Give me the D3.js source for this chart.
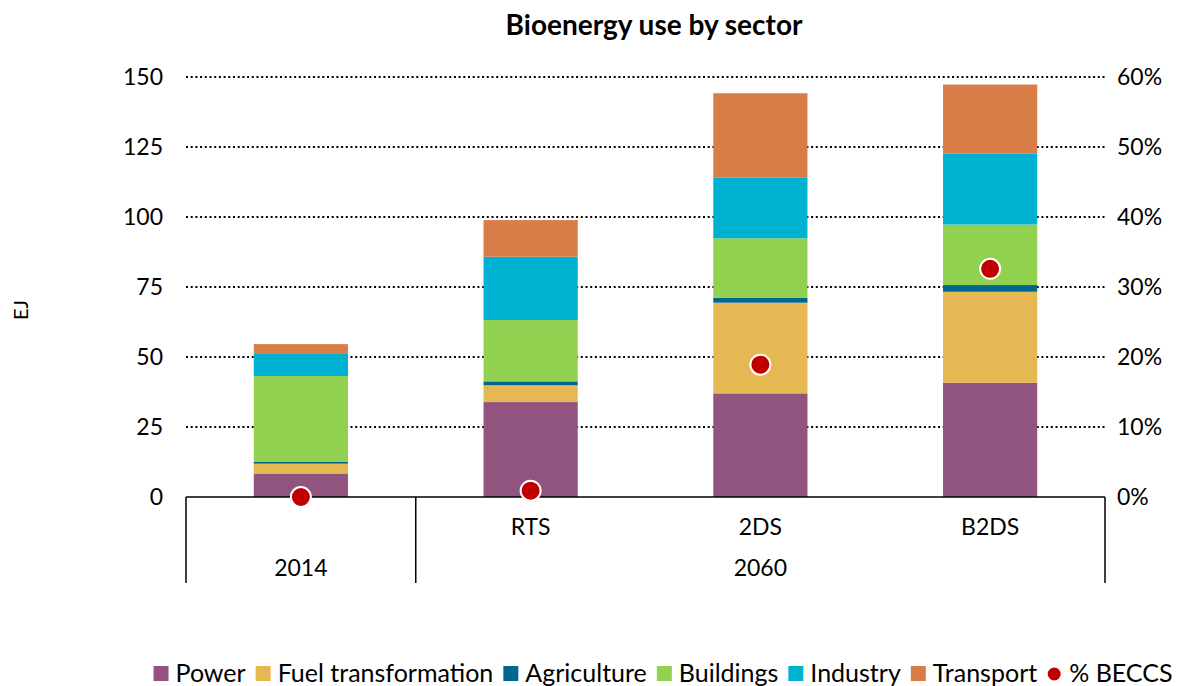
<!DOCTYPE html>
<html>
<head>
<meta charset="utf-8">
<script src="https://cdn.jsdelivr.net/npm/d3@7"></script>
<style>
  body { margin: 0; background: #fff; }
  svg { font-family: Lato, "Open Sans", sans-serif; }
</style>
</head>
<body>
<div id="container"></div>
<script>
// categories: two-level axis (scenario under year)
var ids = ['2014', 'RTS', '2DS', 'B2DS'];
var scenarioLabels = ['', 'RTS', '2DS', 'B2DS'];
var yearGroups = [
    { label: '2014', from: 0, to: 0 },
    { label: '2060', from: 1, to: 3 }
];

// EJ by sector, one value per category
var sectors = ['Power', 'Fuel transformation', 'Agriculture', 'Buildings', 'Industry', 'Transport'];
var power = [8.4, 33.9, 37.0, 40.8];
var fuelTransformation = [3.5, 6.0, 32.4, 32.5];
var agriculture = [0.6, 1.4, 1.8, 2.4];
var buildings = [30.7, 21.9, 21.2, 21.6];
var industry = [7.9, 22.6, 21.6, 25.4];
var transport = [3.5, 13.1, 30.2, 24.6];
var beccs = [0.0, 0.009, 0.189, 0.326];

var leftTicks = [0, 25, 50, 75, 100, 125, 150];
var rightTicks = [0, 0.1, 0.2, 0.3, 0.4, 0.5, 0.6];

var colors = ['#91547f', '#e5b853', '#006890', '#92d050', '#00b2d2', '#d97d48'];
var dotColor = '#c00000';

var width = 1180, height = 686;
var svg = d3.select('#container')
    .append('svg')
    .attr('width', width)
    .attr('height', height);

var rows = ids.map(function(id, i) {
    return {
        id: id,
        'Power': power[i],
        'Fuel transformation': fuelTransformation[i],
        'Agriculture': agriculture[i],
        'Buildings': buildings[i],
        'Industry': industry[i],
        'Transport': transport[i]
    };
});

var x = d3.scaleBand()
    .domain(ids)
    .range([186, 1105])
    .paddingInner(0.59)
    .paddingOuter(0.295);

var y = d3.scaleLinear().domain([0, 150]).range([497, 77]);
var y2 = d3.scaleLinear().domain([0, 0.6]).range([497, 77]);

// gridlines
svg.append('g')
    .selectAll('line')
    .data(leftTicks.slice(1))
    .enter()
    .append('line')
    .attr('x1', 186)
    .attr('x2', 1105)
    .attr('y1', function(d) { return y(d); })
    .attr('y2', function(d) { return y(d); })
    .attr('stroke', '#000')
    .attr('stroke-width', 2)
    .attr('stroke-dasharray', '2,2.7');

// stacked bars
var stack = d3.stack().keys(sectors);
var layers = stack(rows);

svg.append('g')
    .selectAll('g')
    .data(layers)
    .enter()
    .append('g')
    .attr('fill', function(d, i) { return colors[i]; })
    .selectAll('rect')
    .data(function(d) { return d; })
    .enter()
    .append('rect')
    .attr('x', function(d) { return x(d.data.id); })
    .attr('width', x.bandwidth())
    .attr('y', function(d) { return y(d[1]); })
    .attr('height', function(d) { return y(d[0]) - y(d[1]); });

// left axis
var leftAxis = d3.axisLeft(y).tickValues(leftTicks).tickSize(0).tickPadding(23);
svg.append('g')
    .attr('transform', 'translate(186,0)')
    .call(leftAxis)
    .call(function(g) { g.select('.domain').remove(); })
    .selectAll('text')
    .attr('font-size', 23)
    .attr('font-family', 'Lato, "Open Sans", sans-serif')
    .attr('fill', '#000');

// right axis
var rightAxis = d3.axisRight(y2).tickValues(rightTicks).tickSize(0).tickPadding(12)
    .tickFormat(d3.format('.0%'));
svg.append('g')
    .attr('transform', 'translate(1105,0)')
    .call(rightAxis)
    .call(function(g) { g.select('.domain').remove(); })
    .selectAll('text')
    .attr('font-size', 23)
    .attr('font-family', 'Lato, "Open Sans", sans-serif')
    .attr('fill', '#000');

// category axis
var axisY = y(0), axisBottom = 583;
var cat = svg.append('g').attr('stroke', '#000').attr('stroke-width', 1.5);
cat.append('line').attr('x1', 186).attr('x2', 1105).attr('y1', axisY).attr('y2', axisY);
var bounds = [186, (x(ids[0]) + x.bandwidth() + x(ids[1])) / 2, 1105];
cat.selectAll('line.sep')
    .data(bounds)
    .enter()
    .append('line')
    .attr('class', 'sep')
    .attr('x1', function(d) { return d; })
    .attr('x2', function(d) { return d; })
    .attr('y1', axisY)
    .attr('y2', axisBottom);

svg.append('g')
    .selectAll('text')
    .data(ids)
    .enter()
    .append('text')
    .attr('x', function(d) { return x(d) + x.bandwidth() / 2; })
    .attr('y', 535)
    .attr('text-anchor', 'middle')
    .attr('font-size', 23)
    .text(function(d, i) { return scenarioLabels[i]; });

svg.append('g')
    .selectAll('text')
    .data(yearGroups)
    .enter()
    .append('text')
    .attr('x', function(d) {
        return (x(ids[d.from]) + x(ids[d.to]) + x.bandwidth()) / 2;
    })
    .attr('y', 576)
    .attr('text-anchor', 'middle')
    .attr('font-size', 23)
    .text(function(d) { return d.label; });

// % BECCS dots
svg.append('g')
    .selectAll('circle')
    .data(beccs)
    .enter()
    .append('circle')
    .attr('cx', function(d, i) { return x(ids[i]) + x.bandwidth() / 2; })
    .attr('cy', function(d) { return y2(d); })
    .attr('r', 10)
    .attr('fill', dotColor)
    .attr('stroke', '#fff')
    .attr('stroke-width', 2);

// title and y label
svg.append('text')
    .attr('x', 654)
    .attr('y', 35)
    .attr('text-anchor', 'middle')
    .attr('font-size', 28)
    .attr('font-weight', 'bold')
    .text('Bioenergy use by sector');

svg.append('text')
    .attr('transform', 'translate(28,310) rotate(-90)')
    .attr('text-anchor', 'middle')
    .attr('font-size', 20)
    .text('EJ');

// legend
var legendItems = sectors.map(function(s, i) { return { label: s, color: colors[i], dot: false }; });
legendItems.push({ label: '% BECCS', color: dotColor, dot: true });

var legend = svg.append('g');
var lx = 0;
legendItems.forEach(function(d) {
    var item = legend.append('g').attr('transform', 'translate(' + lx + ',0)');
    if (d.dot) {
        item.append('circle').attr('cx', 7).attr('cy', -8).attr('r', 6.5).attr('fill', d.color);
    } else {
        item.append('rect').attr('x', 0).attr('y', -16).attr('width', 15).attr('height', 15).attr('fill', d.color);
    }
    var t = item.append('text')
        .attr('x', 22)
        .attr('y', 0)
        .attr('font-size', 25)
        .text(d.label);
    lx += 22 + t.node().getComputedTextLength() + 10;
});
var legendWidth = lx - 10;
legend.attr('transform', 'translate(' + (663 - legendWidth / 2) + ',682)');
</script>
</body>
</html>
